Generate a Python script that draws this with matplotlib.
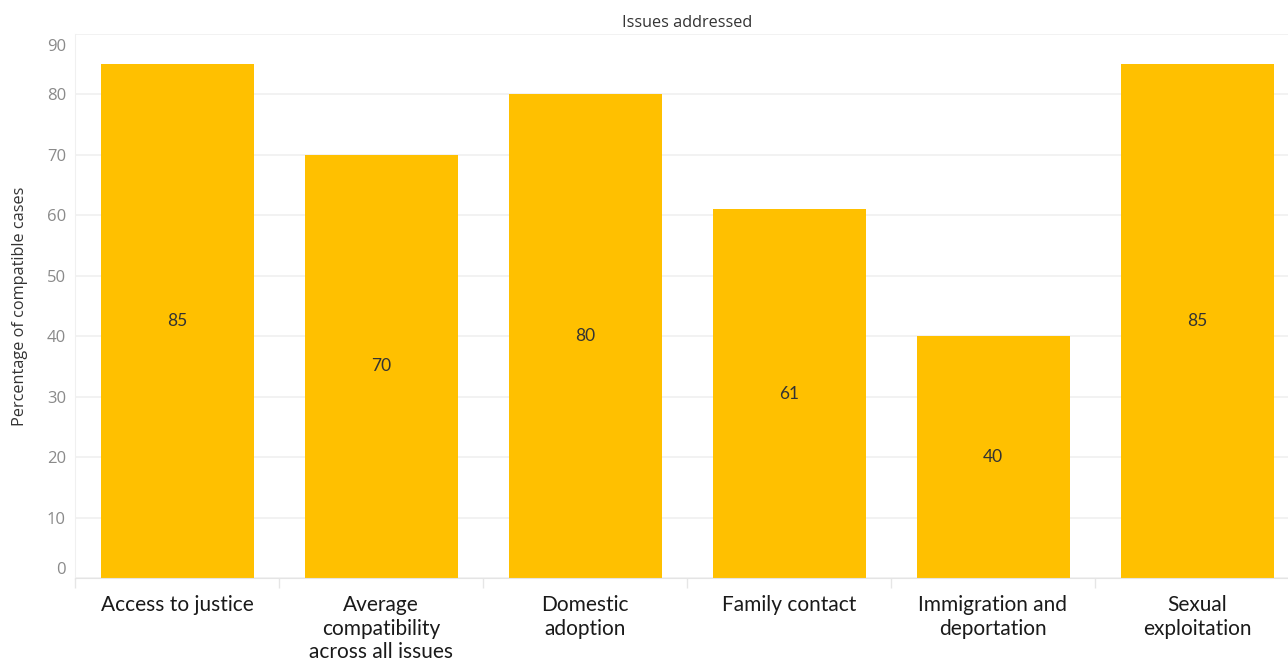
import matplotlib
matplotlib.use("Agg")
import matplotlib.pyplot as plt
import matplotlib.transforms as mtransforms
import numpy as np

categories = ["Access to justice",
              "Average\ncompatibility\nacross all issues",
              "Domestic\nadoption",
              "Family contact",
              "Immigration and\ndeportation",
              "Sexual\nexploitation"]
values = [85, 70, 80, 61, 40, 85]
yticks = [0, 10, 20, 30, 40, 50, 60, 70, 80, 90]

W, H = 1288, 662
fig = plt.figure(figsize=(W / 100, H / 100), dpi=100)
left_px, right_px, top_px, bottom_px = 75, 1288, 34, 578
ax = fig.add_axes([left_px / W, (H - bottom_px) / H,
                   (right_px - left_px) / W, (bottom_px - top_px) / H])

col_w = 204.0
n = len(categories)
x = np.arange(n)
xmax = -0.5 + (right_px - left_px) / col_w

bars = ax.bar(x, values, width=0.75, color="#FFC000", zorder=2)
for xi, v in zip(x, values):
    ax.text(xi, v / 2, f"{v}", ha="center", va="center", fontsize=12.5,
            color="#333333", family="Lato", zorder=3)

ax.set_yticks(yticks)
ax.set_yticklabels([str(t) for t in yticks])
ax.tick_params(axis="y", length=0, pad=6.5, labelsize=12, labelcolor="#8a8a8a")
for lbl in ax.get_yticklabels():
    lbl.set_family("Open Sans")
ax.yaxis.grid(True, color="#f0f0f0", linewidth=1.2, zorder=0)

# clamp end labels inside the axis range like the reference
ylabels = ax.get_yticklabels()
ylabels[-1].set_transform(ylabels[-1].get_transform() +
                          mtransforms.ScaledTranslation(0, -11 / 100, fig.dpi_scale_trans))
ylabels[0].set_transform(ylabels[0].get_transform() +
                         mtransforms.ScaledTranslation(0, 10 / 100, fig.dpi_scale_trans))

ax.set_xticks(x)
ax.set_xticklabels(categories)
ax.tick_params(axis="x", length=0, pad=12.5, labelsize=15, labelcolor="#1a1a1a")
for lbl in ax.get_xticklabels():
    lbl.set_family("Lato")
    lbl.set_verticalalignment("top")
    lbl.set_linespacing(1.2)

# separator ticks between columns
ax.set_xticks(np.arange(n + 1) - 0.5, minor=True)
ax.tick_params(axis="x", which="minor", length=7, color="#e6e6e6", width=1)

ax.set_xlim(-0.5, xmax)
ax.set_ylim(0, 90)

for s in ["top", "right"]:
    ax.spines[s].set_visible(False)
ax.spines["left"].set_color("#f0f0f0")
ax.spines["bottom"].set_color("#e4e4e4")
ax.spines["bottom"].set_linestyle((0, (2, 1)))

ax.set_ylabel("Percentage of compatible cases", fontsize=11.7, color="#333333",
              family="Open Sans")
ax.yaxis.set_label_coords(-(75 - 28) / (right_px - left_px), 0.5)

ax.set_title("Issues addressed", fontsize=11.7, color="#333333", family="Open Sans",
             pad=5, x=((left_px + (left_px + n * col_w)) / 2 - left_px) / (right_px - left_px))

fig.savefig("out.png", dpi=100, facecolor="white")
